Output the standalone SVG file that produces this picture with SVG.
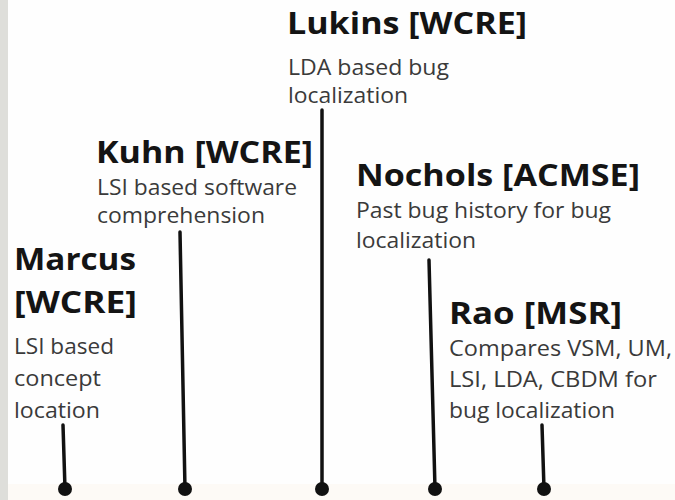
<svg xmlns="http://www.w3.org/2000/svg" width="675" height="500" viewBox="0 0 675 500">
  <style>
    .h { font-family: "Open Sans", "Noto Sans", "Liberation Sans", sans-serif; font-weight: bold; font-size: 31px; fill: #141414; }
    .b { font-family: "Open Sans", "Noto Sans", "Liberation Sans", sans-serif; font-size: 21px; fill: #3a3a3a; }
    .ln { stroke: #111; stroke-width: 3.5; stroke-linecap: round; fill: none; }
    .dot { fill: #111; }
  </style>
  <rect x="0" y="0" width="675" height="500" fill="#fefefe"/>
  <rect x="0" y="484" width="675" height="16" fill="#fdfaf6"/>
  <rect x="0" y="0" width="8" height="500" fill="#dededa"/>

  <g id="connectors">
    <line class="ln" x1="63" y1="425" x2="65" y2="489"/>
    <circle class="dot" cx="65" cy="489" r="7"/>
    <line class="ln" x1="180" y1="232" x2="185" y2="489"/>
    <circle class="dot" cx="185" cy="489" r="7"/>
    <line class="ln" x1="322" y1="110" x2="322" y2="489"/>
    <circle class="dot" cx="322" cy="489" r="7"/>
    <line class="ln" x1="429" y1="260" x2="435" y2="489"/>
    <circle class="dot" cx="435" cy="489" r="7"/>
    <line class="ln" x1="542" y1="425" x2="544" y2="489"/>
    <circle class="dot" cx="544" cy="489" r="7"/>
  </g>

  <g id="lukins">
    <text class="h" x="287" y="34" textLength="240" lengthAdjust="spacingAndGlyphs">Lukins [WCRE]</text>
    <text class="b" x="288" y="75" textLength="161" lengthAdjust="spacingAndGlyphs">LDA based bug</text>
    <text class="b" x="288" y="103" textLength="120" lengthAdjust="spacingAndGlyphs">localization</text>
  </g>

  <g id="kuhn">
    <text class="h" x="96" y="163" textLength="217" lengthAdjust="spacingAndGlyphs">Kuhn [WCRE]</text>
    <text class="b" x="97" y="195" textLength="200" lengthAdjust="spacingAndGlyphs">LSI based software</text>
    <text class="b" x="97" y="223" textLength="168" lengthAdjust="spacingAndGlyphs">comprehension</text>
  </g>

  <g id="marcus">
    <text class="h" x="14" y="270" textLength="122" lengthAdjust="spacingAndGlyphs">Marcus</text>
    <text class="h" x="14" y="313" textLength="123" lengthAdjust="spacingAndGlyphs">[WCRE]</text>
    <text class="b" x="14" y="354" textLength="100" lengthAdjust="spacingAndGlyphs">LSI based</text>
    <text class="b" x="14" y="386" textLength="87" lengthAdjust="spacingAndGlyphs">concept</text>
    <text class="b" x="14" y="418" textLength="86" lengthAdjust="spacingAndGlyphs">location</text>
  </g>

  <g id="nochols">
    <text class="h" x="356" y="186" textLength="284" lengthAdjust="spacingAndGlyphs">Nochols [ACMSE]</text>
    <text class="b" x="356" y="218" textLength="255" lengthAdjust="spacingAndGlyphs">Past bug history for bug</text>
    <text class="b" x="356" y="248" textLength="120" lengthAdjust="spacingAndGlyphs">localization</text>
  </g>

  <g id="rao">
    <text class="h" x="449" y="324" textLength="173" lengthAdjust="spacingAndGlyphs">Rao [MSR]</text>
    <text class="b" x="449" y="356" textLength="223" lengthAdjust="spacingAndGlyphs">Compares VSM, UM,</text>
    <text class="b" x="449" y="387" textLength="208" lengthAdjust="spacingAndGlyphs">LSI, LDA, CBDM for</text>
    <text class="b" x="449" y="418" textLength="166" lengthAdjust="spacingAndGlyphs">bug localization</text>
  </g>
</svg>
